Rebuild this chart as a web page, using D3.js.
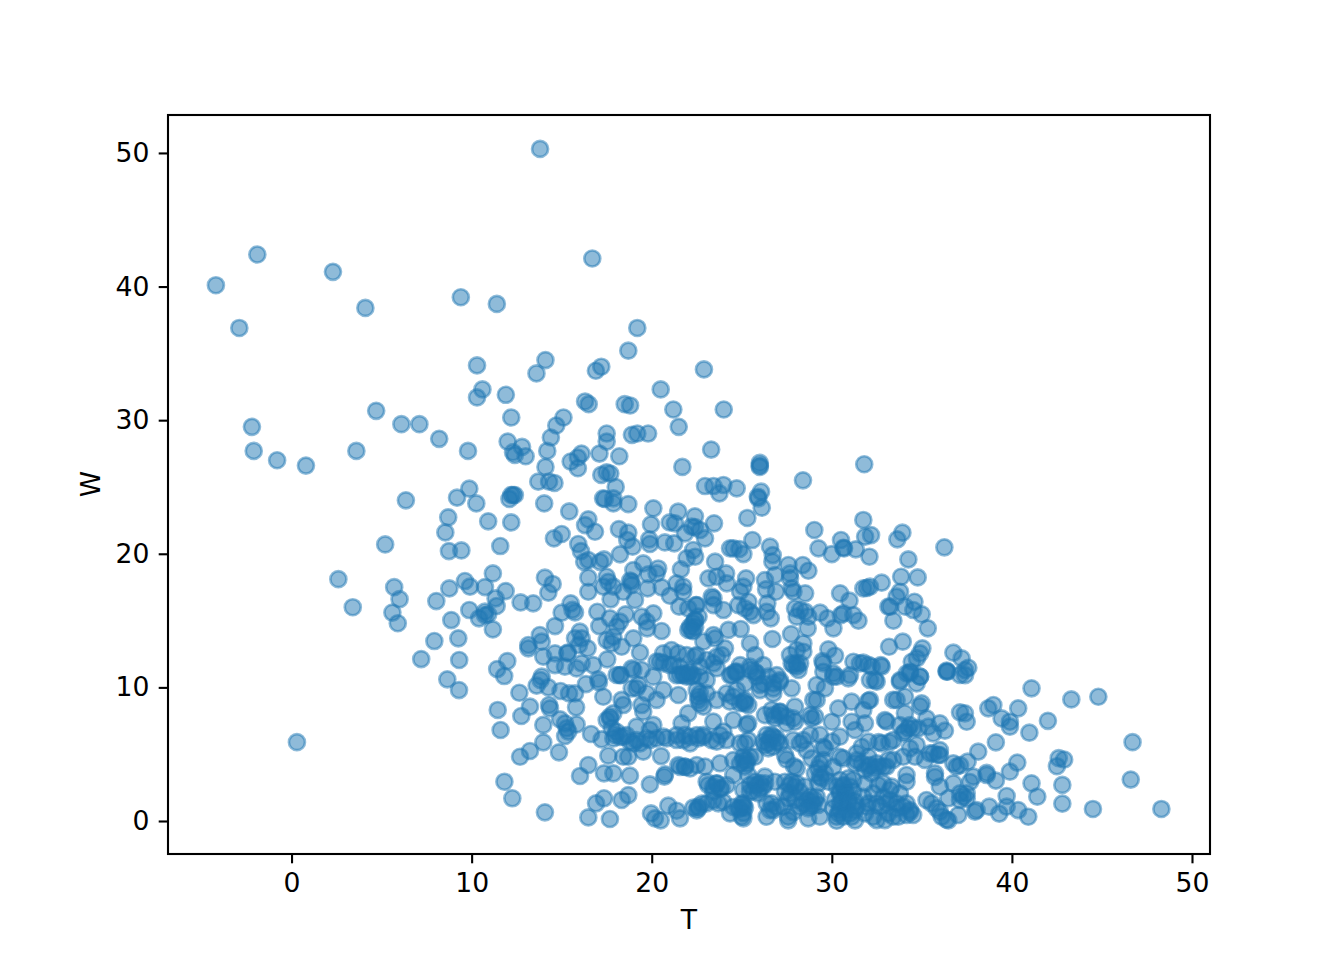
<!DOCTYPE html>
<html><head><meta charset="utf-8">
<script src="https://cdn.jsdelivr.net/npm/d3@7/dist/d3.min.js"></script>
<style>html,body{margin:0;padding:0;background:#fff}svg{display:block}</style>
</head><body><svg id="c" width="1344" height="960"></svg>
<script>
const xTicks=[0,10,20,30,40,50];
const yTicks=[0,10,20,30,40,50];
const xLabel="T", yLabel="W";
const outliers=[[-4.2,40.1],[-2.9,36.9],[-1.9,42.4],[-2.2,29.5],[-2.1,27.7],[-0.8,27.0],[0.8,26.6],[2.3,41.1],[4.1,38.4],[4.7,30.7],[3.6,27.7],[6.1,29.7],[7.1,29.7],[8.2,28.6],[9.4,39.2],[11.4,38.7],[10.3,34.1],[10.3,31.7],[10.6,32.3],[9.8,27.7],[5.2,20.7],[2.6,18.1],[3.4,16.0],[5.7,17.5],[6.0,16.6],[5.6,15.6],[5.9,14.8],[0.3,5.9],[13.8,50.3],[16.7,42.1],[44.8,9.3],[43.3,9.1],[42,7.5],[42.6,4.7],[42.9,4.6],[42.5,4.1],[42.8,2.7],[42.8,1.3],[44.5,0.9],[46.6,3.1],[46.7,5.9],[48.3,0.9]];
const upperBand=[[19.2,36.9],[18.7,35.2],[14.1,34.5],[13.6,33.5],[16.9,33.7],[17.2,34],[22.9,33.8],[20.5,32.3],[11.9,31.9],[16.3,31.4],[16.5,31.2],[18.5,31.2],[18.8,31.1],[21.2,30.8],[24,30.8],[15.1,30.2],[12.2,30.2],[14.7,29.6],[21.5,29.5],[17.5,29],[18.9,28.9],[19.2,29],[19.8,29],[14.4,28.7],[17.5,28.4],[12,28.4],[12.8,28],[14.2,27.7],[12.3,27.6],[12.4,27.4],[13,27.3],[23.3,27.8],[17.1,27.5],[16.1,27.5],[15.9,27.2],[18.2,27.3],[15.5,26.9],[14.1,26.5],[21.7,26.5],[15.9,26.4],[31.8,26.7],[26,26.8],[26,26.6],[26,26.5],[28.4,25.5],[13.7,25.4],[14.3,25.4],[14.6,25.3],[17.2,25.9],[17.5,26.1],[17.7,26],[18,25]];
const midLeft=[[6.35,24.0],[9.87,24.87],[9.19,24.2],[10.26,23.77],[8.7,22.73],[8.54,21.6],[10.92,22.43],[12.2,22.35],[8.74,20.2],[9.43,20.25],[11.59,20.58],[12.2,24.4],[12.3,24.4],[12.4,24.4],[12.1,24.1],[14.03,23.77],[15.42,23.17],[16.48,22.58],[16.3,22.15],[16.85,21.65],[18.18,21.85],[17.3,24.15],[17.87,24.15],[17.4,24.1],[17.87,23.77],[18.7,23.72],[20.09,23.4],[19.96,22.2],[21.47,23.15],[21.0,22.35],[21.29,22.28],[22.4,22.8],[22.4,22.0],[21.85,21.53],[14.57,21.15],[15.0,21.48],[15.92,20.73],[16.07,20.2],[16.25,19.4],[16.48,19.53],[17.13,19.4],[17.35,19.58],[18.24,19.96],[18.7,21.58],[18.64,21.03],[18.94,20.53],[19.86,21.08],[19.9,20.73],[20.73,20.85],[21.25,20.78],[22.3,20.28],[21.94,19.66],[21.62,18.83],[19.53,19.28],[20.36,18.9],[18.98,18.78],[20.27,18.53],[16.48,18.21],[16.48,17.16],[17.5,18.28],[17.59,17.9],[17.31,17.54],[17.87,17.54],[17.72,16.59],[18.42,17.16],[18.88,17.9],[18.88,17.66],[18.8,18.0],[19.07,16.54],[19.77,17.41],[19.81,18.46],[20.55,17.49],[21.01,16.86],[21.38,17.79],[21.75,17.54],[21.75,17.16],[21.53,16.04],[22.03,15.91],[22.45,16.16],[22.3,14.8],[22.12,14.54],[22.4,15.04],[22.03,14.3],[22.3,14.2],[14.07,18.21],[14.5,17.74],[14.26,17.09],[11.18,18.53],[9.63,17.96],[8.76,17.41],[9.91,17.54],[10.74,17.51],[11.89,17.21],[8.04,16.46],[11.33,16.66],[11.39,16.09],[12.72,16.36],[13.42,16.29],[9.87,15.79],[10.41,15.17],[10.74,15.67],[10.74,15.41],[10.92,15.47],[11.18,14.34],[8.87,15.04],[7.93,13.47],[9.26,13.67],[7.2,12.12],[9.31,12.05],[11.98,11.97],[11.42,11.37],[11.81,10.85],[8.65,10.6],[15,15.59],[15.5,16.29],[15.74,15.61],[15.6,15.8],[14.63,14.59],[16.98,15.66],[17.09,14.59],[17.68,15.17],[18.24,14.92],[18.05,14.54],[18.55,15.47],[19.44,15.29],[20.09,15.54],[19.72,14.92],[19.75,14.42],[20.55,14.22],[13.79,13.92],[13.89,13.42],[13.15,13.17],[13.15,12.92],[13.98,12.3],[16.01,14.17],[15.74,13.67],[16.11,13.67],[16.44,12.92],[15.96,13.17],[17.87,13.79],[17.5,13.54],[17.77,13.29],[18.33,13.04],[18.98,13.67],[14.63,12.55],[15.33,12.6],[15.33,12.55],[14.63,11.67],[15.18,11.55],[15.83,11.42],[16.11,11.8],[16.75,11.67],[17.53,12.1],[19.35,12.6],[20.64,12.55],[21.1,12.8],[21.47,12.55],[21.94,12.42],[22.4,12.3],[20.46,11.92],[21,11.67],[21.57,11.55],[22.12,11.17],[21.38,10.92],[21.94,10.8],[18.98,11.3],[18.24,10.92],[19.44,11.3],[20.09,10.8],[13.89,10.8],[17.03,10.6],[9.3,9.8]];
const midRight=[[22.96,25.07],[23.43,25.07],[23.98,25.15],[23.76,24.52],[24.72,24.9],[26.07,24.65],[25.89,24.27],[25.92,24.15],[26.11,23.45],[25.31,22.68],[23.46,22.28],[22.96,21.15],[22.69,21.78],[22.22,22.03],[29.03,21.78],[31.75,22.53],[29.26,20.41],[30,19.98],[30.51,21.03],[30.68,20.41],[30.64,20.45],[31.33,20.33],[31.85,21.28],[32.18,21.4],[32.09,19.78],[33.64,21.08],[33.92,21.58],[36.25,20.48],[34.25,19.58],[25.59,21.03],[24.35,20.41],[24.54,20.41],[24.87,20.36],[25.09,19.98],[26.57,20.53],[26.72,19.9],[26.7,19.41],[22.41,19.78],[23.52,19.41],[27.59,19.16],[28.39,19.16],[28.7,18.73],[27.68,18.53],[27.68,18.16],[26.85,18.41],[23.15,18.16],[23.61,18.28],[24.13,18.53],[24.17,17.79],[25.24,18.16],[25.09,17.54],[26.29,18.03],[26.35,17.34],[26.9,17.16],[24.91,17.16],[27.78,17.41],[27.87,17.16],[28.52,17.04],[33.85,18.28],[34.77,18.23],[32.77,17.84],[32.12,17.54],[31.75,17.41],[31.95,17.45],[30.46,17.04],[30.98,16.49],[33.79,17.16],[33.6,16.79],[33.14,16.04],[33.25,16.04],[33.42,14.99],[34.07,16.04],[34.59,16.41],[34.53,15.79],[34.99,15.47],[35.33,14.42],[23.33,16.79],[23.43,16.66],[22.5,16.16],[23.43,16.16],[23.98,15.79],[24.81,16.16],[25.37,16.41],[25.18,15.91],[25.46,15.66],[25.65,15.41],[26.42,16.29],[26.39,15.66],[26.61,15.17],[27.96,15.91],[28.24,15.79],[28.52,15.67],[28.7,15.29],[28.66,14.42],[28.05,15.29],[29.35,15.59],[29.76,15.17],[30.09,14.42],[30.5,15.41],[30.64,15.54],[31.2,15.41],[31.48,14.99],[22.41,15.04],[22.6,15.3],[22.41,14.5],[22.2,14.3],[24.26,14.3],[24.94,14.37],[23.43,13.92],[23.52,13.67],[26.7,13.62],[27.74,13.99],[28.42,13.29],[25.46,13.29],[24.07,12.92],[22.87,13.42],[33.18,13.04],[33.94,13.42],[36.75,12.6],[35.03,12.92],[34.9,12.55],[34.72,12.17],[34.44,11.92],[34.35,11.17],[34.9,10.8],[34.16,11.05],[33.79,10.55],[37.21,12.17],[37.58,11.47],[36.38,11.25],[36.42,11.17],[37.4,11.3],[37.4,10.92],[29.81,12.85],[30.18,12.37],[29.48,11.97],[29.53,11.17],[30.09,11.05],[30.27,10.8],[31.2,11.92],[31.75,11.85],[32.22,11.55],[32.72,11.67],[31.01,10.92],[32.4,10.55],[28.05,12.8],[27.68,12.42],[28.42,12.67],[28.05,11.8],[28.24,11.8],[27.87,11.67],[28.15,11.3],[25.74,12.42],[26.2,11.67],[24.91,11.67],[24.63,11.17],[25.46,11.55],[25.83,11.05],[26.94,10.92],[22.5,12.42],[23.06,12.05],[23.61,12.3],[23.89,12.42],[23.43,11.8],[22.69,11.55],[22.69,10.8],[22.2,10.8]];
const lowerLeft=[[11.45,8.31],[11.61,6.81],[11.82,2.94],[12.26,1.7],[14.07,0.65],[12.65,9.6],[13.24,8.56],[12.76,7.86],[13.61,10.13],[13.83,10.55],[14.26,10],[14.94,9.73],[15.41,9.55],[15.74,9.55],[14.3,8.68],[14.35,8.43],[15.8,8.51],[17.31,9.3],[16.35,10.25],[17.07,10.38],[14.91,7.61],[15.19,7.31],[15.28,6.94],[15.83,7.23],[15.19,6.36],[15.37,6.69],[13.98,7.19],[13.98,5.89],[13.24,5.24],[12.69,4.81],[14.85,5.14],[16.63,6.51],[17.22,6.11],[16.48,4.19],[16.02,3.37],[17.35,3.57],[17.87,3.57],[18.79,3.39],[19.9,2.74],[20.74,3.49],[20.7,3.32],[17.35,1.7],[16.91,1.32],[16.48,0.27],[17.68,0.15],[18.33,1.57],[18.7,1.94],[19.96,0.57],[20.18,0.2],[20.5,0.05],[20.92,1.15],[21.39,0.77],[21.57,0.2],[22.59,0.95],[17.68,7.81],[17.87,8.06],[17.78,6.94],[17.96,6.44],[18.33,9.06],[18.42,8.68],[17.59,4.89],[18.42,4.81],[18.7,4.81],[20.52,4.86],[19.53,5.19],[18.05,10.93],[18.28,10.93],[18.89,11.43],[19.16,9.93],[19.72,9.55],[20.27,9.06],[20.65,9.8],[19.53,8.18],[19.44,8.68],[20.09,7.19],[19.9,6.81],[19.16,7.06],[20.65,6.31],[18.79,5.94],[18.42,6.31],[19.35,5.81],[19.9,6.06],[21.39,6.06],[21.85,6.44],[22.59,6.19],[22.87,6.44],[23.61,5.94],[24.16,6.06],[22.13,5.81],[21.85,4.07],[21.48,4.19],[22.96,4.07],[22.5,4.19],[23.61,2.82],[23.05,2.94],[23.88,2.44],[23.42,2.2],[23.7,1.32],[23.05,1.32],[22.59,1.07],[24.35,0.57],[24.9,0.95],[25.0,0.32],[24.53,3.44],[25.09,2.32],[22.68,9.55],[22.59,9.06],[22.87,8.56],[22.03,8.06],[21.66,7.31],[21.48,9.43],[24.16,9.55],[24.35,8.93],[24.9,8.81],[23.61,9.06],[23.42,7.44],[24.53,7.56],[25.27,7.19],[23.98,6.69],[24.9,5.81],[25.09,4.81],[24.53,4.56],[23.79,4.32],[24.72,11.05],[21.76,11.05],[20.65,11.8],[21.2,11.68],[22.31,10.93],[23.05,10.55],[23.61,11.43],[24.35,10.9]];
const lowerRight=[[41.09,9.93],[36.37,11.18],[37.12,10.93],[38.97,8.68],[38.69,8.43],[40.35,8.43],[37.12,8.13],[37.39,8.06],[37.49,7.43],[39.43,7.68],[39.89,7.43],[39.89,7.06],[40.97,6.61],[39.11,5.89],[38.13,5.19],[37.54,4.44],[40.3,4.37],[39.89,3.69],[38.6,3.44],[39.11,3.02],[41.09,2.82],[41.41,1.82],[39.71,1.87],[38.74,1.07],[39.71,1.07],[39.3,0.55],[40.35,0.82],[40.91,0.32],[38.04,0.82],[37.95,0.7],[37.02,0.45],[36.47,0.05],[36,0.7],[35.26,1.57],[35.54,1.32],[35.82,0.95],[36.1,0.32],[36.37,0.1],[37.86,3.32],[38.6,3.6],[36.75,2.82],[36,2.57],[35.73,3.57],[35.73,3.3],[36.75,4.32],[36.93,4.07],[36,5.31],[35.91,4.94],[35.45,5.06],[35.17,4.57],[37.49,2.07],[37.3,1.82],[37.12,1.57],[36.47,1.7],[34.71,5.69],[34.34,5.44],[34.99,8.81],[34.9,8.6],[34.71,10.3],[33.78,10.43],[34.9,10.8],[34.34,11.05],[34.06,9.3],[33.41,9.06],[33.6,9.06],[34.06,8.06],[32.95,7.56],[33.05,7.43],[34.25,6.94],[34.52,6.94],[35.26,7.68],[36,7.31],[35.36,7.06],[35.63,6.56],[36.28,6.76],[33.41,6.06],[32.77,5.81],[33.97,6.56],[32.77,11.55],[32.03,11.68],[32.49,10.43],[32.12,10.55],[31.1,8.93],[32.03,9],[32.12,9.06],[30.36,8.43],[31.75,8.31],[31.1,7.43],[31.84,7.31],[31.29,6.81],[30,7.43],[28.97,9.06],[29.16,9.06],[28.05,11.55],[27.77,11.8],[29.53,11.8],[30.08,10.8],[30.92,10.68],[29.16,10.18],[29.62,9.93],[31.56,11.8],[25.83,10.8],[26.2,10.3],[26.75,10.3],[27.12,10.55],[27.1,10.4],[26.01,9.8],[26.75,9.55],[27.77,9.93],[25.18,8.81],[26.29,7.93],[27.12,7.93],[27.12,8.15],[27.95,8.56],[28.88,7.68],[27.95,7.43],[27.49,7.31],[26.75,7.93],[25.36,7.31],[26.57,6.19],[26.47,5.81],[26.75,6.3],[26.94,5.94],[26.29,5.69],[25.18,5.81],[28.23,5.81],[28.79,6.44],[29.34,6.44],[30,5.94],[30.45,6.31],[29.62,5.44],[27.4,4.94],[28.88,4.69],[29.34,3.32],[28.05,3.94],[29.25,3.94],[30.64,4.69],[31.38,5.06],[32.03,5.94],[31.29,4.32],[32.12,4.19],[32.58,4.07],[33.04,4.07],[33.41,4.57],[33.97,4.81],[34.62,4.81],[34.15,3.44],[34.15,2.94],[33.32,2.57],[32.58,2.69],[31.84,2.82],[31.19,3.07],[30.64,2.57],[30.45,2.07],[30.73,2.07],[30.45,1.32],[30.92,1.32],[30.27,0.02],[31.29,0.05],[30.36,0.57],[31.01,0.57],[32.49,0.07],[32.95,0.07],[33.41,0.32],[34.34,0.82],[33.6,1.32],[33.04,1.32],[32.49,1.32],[34.15,1.32],[33.78,2.07],[32.03,1.32],[31.84,0.57],[29.34,0.32],[28.69,0.2],[27.58,0.05],[26.38,0.32],[25.09,0.2],[28.88,1.45],[28.23,1.07],[27.31,1.07],[26.66,1.32],[26.75,0.82],[27.68,2.07],[27.95,2.57],[27.4,2.2],[28.8,1.1],[28.23,2.2],[27.77,2.94],[26.01,2.82],[25.83,2.69],[26.2,2.57],[25.46,2.2],[25.09,1.07],[26.84,2.94],[26.29,3.32],[25.27,4.56],[25.73,4.81],[24.9,4.3],[25.18,4.07],[25.36,3.44]];
const denseCore=[[26.38,6.43],[26.66,6.43],[26.94,6.19],[26.2,5.94],[26.75,5.56],[26.47,5.44],[27.12,5.81],[25.46,11.3],[25.73,11.18],[26.47,10.8],[26.75,9.93],[26.01,10.18],[25.18,10.3],[26.66,8.31],[27.12,8.18],[27.49,7.81],[26.84,7.68],[27.86,7.68],[28.79,7.93],[29.07,7.81],[25.46,2.69],[25.73,2.94],[26.01,2.44],[26.29,2.82],[25.64,2.2],[25.92,2.07],[27.4,2.94],[27.68,2.69],[28.05,2.82],[28.51,2.57],[27.58,1.7],[27.95,1.57],[28.42,1.32],[28.79,1.82],[29.06,1.57],[29.25,1.2],[26.38,1.32],[26.94,1.07],[26.57,0.82],[27.58,0.32],[27.86,0.67],[30.27,2.57],[30.64,2.69],[31.01,2.57],[30.45,2.2],[30.82,2.07],[31.19,2.2],[30.17,1.57],[30.55,1.45],[30.92,1.57],[31.29,1.45],[30.08,0.95],[30.45,0.82],[30.82,0.82],[31.29,0.82],[30.27,0.32],[30.64,0.32],[31.1,0.32],[30.45,3.07],[30.92,3.2],[31.66,4.32],[32.03,4.07],[32.4,3.94],[32.86,4.07],[31.84,3.82],[32.49,4.32],[33.14,4.57],[32.21,3.57],[33.23,1.57],[33.6,0.95],[33.97,1.07],[34.34,0.67],[34.52,0.45],[34.15,0.45],[33.14,0.57],[33.69,0.32],[32.67,1.07],[32.3,0.32],[29.06,3.57],[29.43,3.19],[29.62,3.57],[29.25,2.82],[29.8,2.94],[28.6,1.57],[28.97,1.2],[28.69,0.95],[29.16,1.82],[25.18,1.0],[25.0,1.3],[25.09,0.6],[33.78,7.18],[34.34,7.18],[34.8,6.93],[34.06,6.69],[35.63,5.06],[36,4.94],[37.12,4.18],[37.12,2.07],[37.49,1.68],[37.67,2.92],[27.86,6.05],[28.42,6.05],[28.6,5.3],[29.34,4.3],[29.53,5.55],[25.18,9.05],[25.36,8.68],[25.36,6.05],[25.46,4.8],[25.09,4.55],[25.27,4.3],[27.49,4.6],[27.9,4.1],[32.6,5.9],[33.2,5.9],[31.66,5.55],[32.03,4.8],[31.38,4.55],[30.45,4.8],[30.08,4.05],[29.53,4.55],[32.86,2.82],[33.23,2.32],[32.3,2.07],[31.75,1.8],[32.86,1.8],[31.93,1.07],[31.38,1.07]];
const denseLeft=[[17.69,7.68],[17.5,7.55],[18.05,6.68],[17.87,6.18],[18.24,6.3],[18.6,6.43],[19.16,6.05],[18.98,5.8],[19.72,6.18],[20.27,6.18],[21.76,6.05],[22.13,6.3],[22.87,6.3],[23.33,6.05],[23.79,6.43],[22.5,6.43],[21.39,6.43],[20.83,6.18],[22.59,9.3],[22.68,8.8],[22.5,9.8],[23.05,9.55],[24.53,9.3],[24.72,9.8],[25.09,8.93],[24.72,11.18],[24.44,10.93],[20.27,11.93],[18.89,9.93],[19.26,10.18],[21.76,10.93],[22.03,11.05],[21.57,10.93],[23.61,2.8],[23.79,2.43],[24.16,2.68],[23.42,2.55],[23.14,2.68],[23.42,1.55],[23.98,1.43],[24.81,0.93],[25.09,1.3],[24.53,1.05],[22.5,0.8],[22.31,1],[22.78,1.3],[21.85,4.05],[21.58,4.05],[22.13,3.93]];
const allPoints=[...outliers,...upperBand,...midLeft,...midRight,...lowerLeft,...lowerRight,...denseCore,...denseLeft];

const m={l:168,r:1210,t:115,b:854};
const x=d3.scaleLinear().domain([-6.86,51.0]).range([m.l,m.r]);
const y=d3.scaleLinear().domain([-2.47,52.84]).range([m.b,m.t]);
const svg=d3.select('#c');
const font='"DejaVu Sans"', fs=26.67;
svg.append('g').selectAll('circle').data(allPoints).join('circle')
  .attr('cx',d=>x(d[0])).attr('cy',d=>y(d[1])).attr('r',8)
  .attr('fill','#1f77b4').attr('fill-opacity',.5)
  .attr('stroke','#1f77b4').attr('stroke-opacity',.5).attr('stroke-width',2.67);
svg.append('rect').attr('x',m.l).attr('y',m.t).attr('width',m.r-m.l).attr('height',m.b-m.t)
  .attr('fill','none').attr('stroke','#000').attr('stroke-width',2.1);
const ax=svg.append('g').attr('transform',`translate(0,${m.b})`)
  .call(d3.axisBottom(x).tickValues(xTicks).tickSize(9.3).tickPadding(9.3).tickFormat(d3.format('d')));
const ay=svg.append('g').attr('transform',`translate(${m.l},0)`)
  .call(d3.axisLeft(y).tickValues(yTicks).tickSize(9.3).tickPadding(9.3).tickFormat(d3.format('d')));
[ax,ay].forEach(a=>{a.select('.domain').remove();
  a.selectAll('line').attr('stroke','#000').attr('stroke-width',2.1);
  a.selectAll('text').attr('fill','#000').style('font-family',font).style('font-size',fs+'px');});
svg.append('text').attr('x',689).attr('y',929).attr('text-anchor','middle').attr('fill','#000')
  .style('font-family',font).style('font-size',fs+'px').text(xLabel);
svg.append('text').attr('transform','translate(100,484) rotate(-90)').attr('text-anchor','middle').attr('fill','#000')
  .style('font-family',font).style('font-size',fs+'px').text(yLabel);
</script></body></html>
